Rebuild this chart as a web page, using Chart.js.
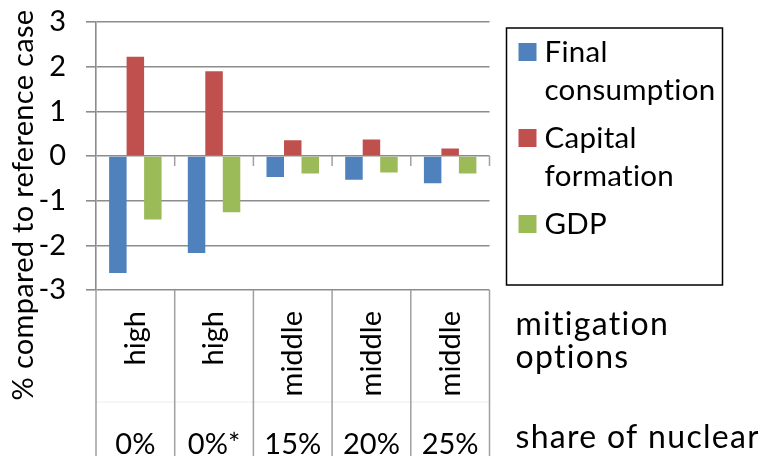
<!DOCTYPE html>
<html>
<head>
<meta charset="utf-8">
<script src="https://cdn.jsdelivr.net/npm/chart.js@4.4.1/dist/chart.umd.min.js"></script>
<style>
  html, body { margin: 0; padding: 0; background: #fff; }
</style>
</head>
<body>
<canvas id="chart" width="758" height="456"></canvas>
<script>
// data
const mitigationOptions = ['high', 'high', 'middle', 'middle', 'middle'];
const nuclearShare = ['0%', '0%*', '15%', '20%', '25%'];
const finalConsumption = [-2.62, -2.17, -0.47, -0.53, -0.61];
const capitalFormation = [2.22, 1.90, 0.35, 0.37, 0.17];
const gdp = [-1.42, -1.26, -0.39, -0.37, -0.39];
const seriesNames = [['Final', 'consumption'], ['Capital', 'formation'], ['GDP']];
const seriesColors = ['#4F81BD', '#C0504D', '#9BBB59'];
const yAxisTitle = '% compared to reference case';
const rowTitles = [['mitigation', 'options'], ['share of nuclear']];

const FONT = 'Lato';
const GRID = '#8c8c8c';

// legend, axis title, category dividers, row titles
const decorations = {
  id: 'decorations',
  afterDraw(chart) {
    const { ctx, chartArea, scales } = chart;
    const x = scales.x, x2 = scales.x2, y = scales.y;
    const n = mitigationOptions.length;
    const bounds = [];
    for (let i = 0; i <= n; i++) {
      if (i === 0) bounds.push(x.left);
      else if (i === n) bounds.push(x.right);
      else bounds.push((x.getPixelForValue(i - 1) + x.getPixelForValue(i)) / 2);
    }
    ctx.save();

    // faint separator between the two label rows
    ctx.strokeStyle = '#ececec';
    ctx.lineWidth = 1;
    ctx.beginPath();
    ctx.moveTo(x.left, x2.top);
    ctx.lineTo(x.right, x2.top);
    ctx.stroke();

    // dividers between categories
    ctx.strokeStyle = '#a0a0a0';
    ctx.lineWidth = 1.5;
    ctx.beginPath();
    bounds.forEach(b => {
      ctx.moveTo(b, chartArea.bottom);
      ctx.lineTo(b, chart.height);
    });
    // small ticks under the zero line
    const y0 = y.getPixelForValue(0);
    bounds.slice(1).forEach(b => {
      ctx.moveTo(b, y0);
      ctx.lineTo(b, y0 + 10);
    });
    ctx.stroke();

    // no ligatures (ti) in plugin text
    ctx.letterSpacing = '0.3px';

    // y axis title
    ctx.fillStyle = '#000';
    ctx.font = '29px ' + FONT;
    ctx.textAlign = 'center';
    ctx.textBaseline = 'middle';
    ctx.translate(24, 205);
    ctx.rotate(-Math.PI / 2);
    ctx.fillText(yAxisTitle, 0, 0);
    ctx.setTransform(1, 0, 0, 1, 0, 0);

    // row titles at the right of the label rows
    const tx = chartArea.right + 26;
    ctx.letterSpacing = '1.3px';
    ctx.font = '32px ' + FONT;
    ctx.textAlign = 'left';
    ctx.textBaseline = 'alphabetic';
    rowTitles[0].forEach((t, i) => ctx.fillText(t, tx, x.top + 45 + i * 33));
    ctx.fillText(rowTitles[1][0], tx, x2.top + 46);

    // legend
    const lx = chartArea.right + 17, ly = 28, lw = 216, lh = 257;
    ctx.strokeStyle = '#000';
    ctx.lineWidth = 1.5;
    ctx.strokeRect(lx, ly, lw, lh);
    ctx.letterSpacing = '0.3px';
    ctx.font = '29.5px ' + FONT;
    ctx.textBaseline = 'middle';
    let cy = ly + 24;
    chart.data.datasets.forEach((ds, i) => {
      ctx.fillStyle = ds.backgroundColor;
      ctx.fillRect(lx + 12, cy - 9, 18, 18);
      ctx.fillStyle = '#000';
      seriesNames[i].forEach((line, j) => {
        ctx.fillText(line, lx + 38, cy + j * 38);
      });
      cy += seriesNames[i].length * 38 + 10;
    });
    ctx.restore();
  }
};

new Chart(document.getElementById('chart'), {
  type: 'bar',
  data: {
    labels: mitigationOptions,
    datasets: [
      { label: seriesNames[0].join(' '), data: finalConsumption, backgroundColor: seriesColors[0] },
      { label: seriesNames[1].join(' '), data: capitalFormation, backgroundColor: seriesColors[1] },
      { label: seriesNames[2].join(' '), data: gdp, backgroundColor: seriesColors[2] }
    ]
  },
  options: {
    responsive: false,
    animation: false,
    devicePixelRatio: 1,
    categoryPercentage: 0.667,
    barPercentage: 1,
    layout: { padding: { top: 22, right: 268.5, left: 0, bottom: 0 } },
    plugins: {
      legend: { display: false },
      tooltip: { enabled: false }
    },
    scales: {
      x: {
        position: 'bottom',
        weight: 0,
        grid: { display: false, drawTicks: false },
        border: { display: false },
        ticks: {
          minRotation: 90, maxRotation: 90,
          padding: 21,
          color: '#000',
          font: { family: FONT, size: 29 }
        },
        afterFit(scale) { scale.height = 112; }
      },
      x2: {
        type: 'category',
        labels: nuclearShare,
        position: 'bottom',
        weight: 1,
        offset: true,
        grid: { display: false, drawTicks: false },
        border: { display: false },
        ticks: {
          padding: 25,
          color: '#000',
          font: { family: FONT, size: 29 }
        },
        afterFit(scale) { scale.height = 54; }
      },
      y: {
        min: -3, max: 3,
        ticks: {
          stepSize: 1,
          padding: 20,
          color: '#000',
          font: { family: FONT, size: 29 }
        },
        grid: { color: GRID, lineWidth: 1.6, tickLength: 10 },
        border: { display: true, color: GRID, width: 1.6 },
        afterFit(scale) {
          scale.width = 96;
          scale.paddingTop = 0;
          scale.paddingBottom = 0;
        }
      }
    }
  },
  plugins: [decorations]
});
</script>
</body>
</html>
